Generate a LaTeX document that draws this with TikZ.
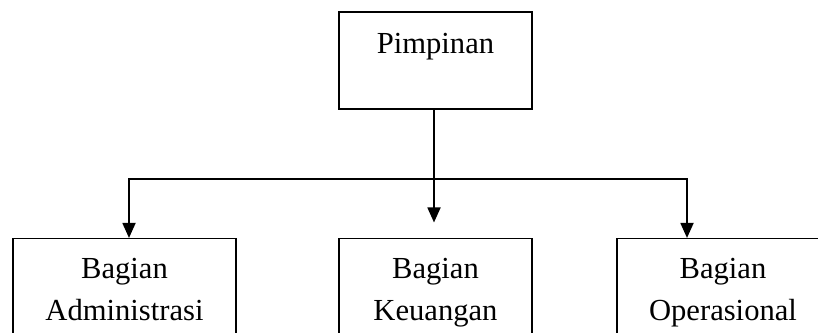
\documentclass[tikz,border=0pt]{standalone}
\usepackage{fontspec}
\setmainfont{Liberation Serif}
\usetikzlibrary{arrows.meta,positioning}

\begin{document}
\begin{tikzpicture}[x=1pt,y=-1pt,
    unitbox/.style={draw, line width=1.1pt, inner sep=0pt, align=center, anchor=base,
                    font=\fontsize{30.6}{42}\selectfont},
    link/.style={line width=1.8pt},
    linkarrow/.style={line width=1.8pt, -{Triangle[length=15pt,width=13pt]}}]
    \useasboundingbox (0,0) rectangle (818,332);

    % Top box
    \node[unitbox, text width=193pt, text height=41pt, text depth=56pt] (pimpinan) at (435.5,53) {Pimpinan};

    % Bottom boxes
    \node[unitbox, text width=223pt, text height=39.5pt, text depth=80pt] (admin) at (124.5,278) {Bagian\\Administrasi};
    \node[unitbox, text width=193pt, text height=39.5pt, text depth=80pt] (keuangan) at (435.5,278) {Bagian\\Keuangan};
    \node[unitbox, text width=212pt, text height=39.5pt, text depth=80pt] (ops) at (723,278) {Bagian\\Operasional};

    % Connectors
    \coordinate (midturn) at (434,179);
    \coordinate (leftturn) at (129,179);
    \coordinate (rightturn) at (687,179);
    \draw[linkarrow] (midturn |- pimpinan.south) -- ([yshift=15.5pt]midturn |- keuangan.north);
    \draw[linkarrow] (midturn) -- (leftturn) -- (leftturn |- admin.north);
    \draw[linkarrow] (midturn) -- (rightturn) -- (rightturn |- ops.north);
\end{tikzpicture}
\end{document}
